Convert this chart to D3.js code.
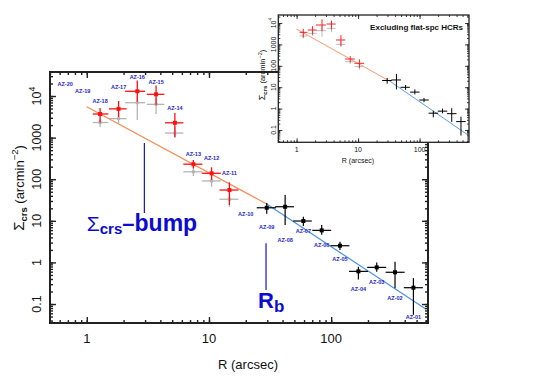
<!DOCTYPE html>
<html>
<head>
<meta charset="utf-8">
<script src="https://cdn.jsdelivr.net/npm/d3@7"></script>
<style>
body { margin: 0; background: #fff; }
text { font-family: "Liberation Sans", Arial, sans-serif; }
</style>
</head>
<body>
<div id="chart"></div>
<script>
// ---- data ----
var regionNames = ["AZ-01","AZ-02","AZ-03","AZ-04","AZ-05","AZ-06","AZ-07","AZ-08","AZ-09","AZ-10",
                   "AZ-11","AZ-12","AZ-13","AZ-14","AZ-15","AZ-16","AZ-17","AZ-18","AZ-19","AZ-20"];
var regionR = [471, 333, 236, 167, 118, 83.7, 59.2, 42, 29.7, 20.0,
               14.7, 10.5, 7.45, 5.26, 3.69, 2.59, 1.82, 1.285, 0.927, 0.665];
var labelS = [0.0495, 0.137, 0.344, 0.23, 1.21, 2.62, 5.8, 3.45, 7.2, 14.3,
              143, 318, 397, 5230, 22100, 28200, 16700, 7710, 13400, 19400];

// inner regions (red = all HCRs, gray = second estimate)
var redR    = [1.285, 1.82, 2.59, 3.69, 5.26, 7.45, 10.5, 14.7];
var redIn   = [1.12, 1.52, 2.06, 3.10, 4.37, 6.17, 8.73, 12.2];
var redOut  = [1.50, 2.12, 3.00, 4.31, 6.17, 8.83, 12.5, 17.4];
var redS    = [3700, 4920, 13000, 11000, 2270, 230, 139, 55];
var redLo   = [2300, 3130, 7300, 6080, 1030, 183, 96, 24];
var redHi   = [5150, 7590, 23600, 17900, 3900, 290, 193, 84];
var grayS   = [2310, 2860, 6900, 6310, 1290, 151, 91, 33];
var grayLo  = [1800, 2210, 2650, 3690, 980, 119, 66, 21.5];
var grayHi  = [2800, 3890, 10000, 8960, 1800, 196, 119, 55];

// outer regions
var blackR   = [29.7, 42, 59.2, 83.7, 118, 167, 236, 333, 471];
var blackIn  = [24.6, 34.8, 48.8, 70, 98.9, 140, 197, 279, 393];
var blackOut = [35.4, 49.7, 69.4, 100, 141, 200, 282, 399, 563];
var blackS   = [20.6, 21.8, 9.9, 5.9, 2.52, 0.61, 0.76, 0.58, 0.247];
var blackLo  = [14.7, 7.9, 7.5, 4.6, 1.99, 0.39, 0.6, 0.24, 0.055];
var blackHi  = [27, 41.7, 12.6, 7.9, 3.15, 0.79, 1.0, 1.04, 0.42];

// power-law fits [R, S]
var fitInner = [[1.0, 5530], [29.7, 25.3]];
var fitOuter = [[29.7, 25.3], [598, 0.0746]];

// inset: excluding flat-spectrum HCRs
var inRedS  = [3670, 4710, 8070, 8980, 1610, 208, 131];
var inRedLo = [2100, 2900, 4200, 5000, 850, 145, 80];
var inRedHi = [5400, 7200, 15000, 13000, 2700, 285, 200];
var inGrayS  = [2470, 3300, 4370, 5650, 1000, 155, 91];
var inGrayLo = [1900, 2500, 2300, 3700, 760, 120, 66];
var inGrayHi = [3100, 4300, 7500, 8000, 1300, 195, 118];
var inFitInner = [[1.0, 5200], [33, 19]];
var inFitOuter = [[33, 19], [636, 0.054]];

var yMajor = [0.1, 1, 10, 100, 1000, 10000];
var xMajor = [1, 10, 100];
var xTickLabels = ["1", "10", "100"];

// annotations [R, S]
var bumpLine = [[2.96, 741], [2.96, 15.4]];
var rbLine = [[29.3, 2.88], [29.3, 0.217]];

// ---- drawing ----
var svg = d3.select("#chart").append("svg").attr("width", 545).attr("height", 385);

var x = d3.scaleLog().domain([0.5, 620]).range([50, 428]);
var y = d3.scaleLog().domain([0.035, 37800]).range([323, 72]);

var blueTxt = "#0b0bd2";

function logAxes(g, sx, sy, major, minor, sw) {
  var x0 = sx.range()[0], x1 = sx.range()[1], y0 = sy.range()[0], y1 = sy.range()[1];
  var defs = [
    [d3.axisBottom(sx), "translate(0," + y0 + ")", sx],
    [d3.axisTop(sx), "translate(0," + y1 + ")", sx],
    [d3.axisLeft(sy), "translate(" + x0 + ",0)", sy],
    [d3.axisRight(sy), "translate(" + x1 + ",0)", sy]
  ];
  defs.forEach(function(d) {
    var s = d[2];
    var a1 = d[0].tickValues(s.ticks()).tickSize(-minor).tickFormat("");
    g.append("g").attr("transform", d[1]).call(a1).call(function(e){ e.select(".domain").remove(); })
      .selectAll("line").attr("stroke", "#222").attr("stroke-width", sw * 0.7);
    var a2 = d[0].tickValues(s === sx ? xMajor : yMajor).tickSize(-major).tickFormat("");
    g.append("g").attr("transform", d[1]).call(a2).call(function(e){ e.select(".domain").remove(); })
      .selectAll("line").attr("stroke", "#222").attr("stroke-width", sw * 0.7);
  });
  g.append("rect").attr("x", x0).attr("y", y1).attr("width", x1 - x0).attr("height", y0 - y1)
    .attr("fill", "none").attr("stroke", "#222").attr("stroke-width", sw);
}

function errBars(g, sx, sy, R, rin, rout, S, lo, hi, color, w, msize) {
  var pts = R.map(function(r, i) { return {r: r, a: rin[i], b: rout[i], s: S[i], lo: lo[i], hi: hi[i]}; });
  var gg = g.append("g");
  gg.selectAll(".h").data(pts).enter().append("line")
    .attr("x1", function(d){ return sx(d.a); }).attr("x2", function(d){ return sx(d.b); })
    .attr("y1", function(d){ return sy(d.s); }).attr("y2", function(d){ return sy(d.s); })
    .attr("stroke", color).attr("stroke-width", w);
  gg.selectAll(".v").data(pts).enter().append("line")
    .attr("x1", function(d){ return sx(d.r); }).attr("x2", function(d){ return sx(d.r); })
    .attr("y1", function(d){ return sy(d.lo); }).attr("y2", function(d){ return sy(d.hi); })
    .attr("stroke", color).attr("stroke-width", w);
  if (msize) {
    gg.selectAll(".m").data(pts).enter().append("rect")
      .attr("x", function(d){ return sx(d.r) - msize / 2; })
      .attr("y", function(d){ return sy(d.s) - msize / 2; })
      .attr("width", msize).attr("height", msize).attr("fill", color);
  }
}

function fitLine(g, sx, sy, pts, color, w) {
  g.append("path").datum(pts)
    .attr("d", d3.line().x(function(d){ return sx(d[0]); }).y(function(d){ return sy(d[1]); }))
    .attr("fill", "none").attr("stroke", color).attr("stroke-width", w);
}

function yLabel(g, tx, ty, v, fs) {
  var t = g.append("text").attr("transform", "translate(" + tx + "," + ty + ") rotate(-90)")
    .attr("text-anchor", "middle").attr("font-size", fs).attr("fill", "#111");
  if (v === 10000) {
    t.append("tspan").text("10");
    t.append("tspan").attr("font-size", fs * 0.7).attr("dy", -fs * 0.45).text("4");
  } else {
    t.text(v < 1 ? "0.1" : String(v));
  }
}

// main panel
var main = svg.append("g");
fitLine(main, x, y, fitInner, "#ff8a50", 1.2);
fitLine(main, x, y, fitOuter, "#4a93ea", 1.2);
errBars(main, x, y, redR, redIn, redOut, grayS, grayLo, grayHi, "#b4b4b4", 1.3, 3);
errBars(main, x, y, redR, redIn, redOut, redS, redLo, redHi, "#ff1010", 1.3, 4);
errBars(main, x, y, blackR, blackIn, blackOut, blackS, blackLo, blackHi, "#000", 1.2, 4);
logAxes(main, x, y, 6, 3, 2);

main.selectAll(".az").data(regionNames).enter().append("text")
  .attr("x", function(d, i){ return x(regionR[i]); })
  .attr("y", function(d, i){ return y(labelS[i]); })
  .attr("dy", "0.35em").attr("text-anchor", "middle")
  .attr("font-size", 5.5).attr("font-weight", "bold").attr("fill", "#2424d0")
  .text(function(d){ return d; });

// annotations
[bumpLine, rbLine].forEach(function(l) {
  main.append("line").attr("x1", x(l[0][0])).attr("x2", x(l[1][0]))
    .attr("y1", y(l[0][1])).attr("y2", y(l[1][1]))
    .attr("stroke", "#1414c8").attr("stroke-width", 1.2);
});
var bt = main.append("text").attr("x", x(1.0)).attr("y", y(5.69)).attr("fill", blueTxt).attr("font-weight", "bold");
bt.append("tspan").attr("font-size", 21).attr("font-weight", "normal").text("Σ");
bt.append("tspan").attr("font-size", 15).attr("dy", 3).text("crs");
bt.append("tspan").attr("font-size", 22).attr("dy", -3).text("–");
bt.append("tspan").attr("font-size", 23).text("bump");
var rt = main.append("text").attr("x", x(25.2)).attr("y", y(0.08)).attr("fill", blueTxt).attr("font-weight", "bold");
rt.append("tspan").attr("font-size", 22).text("R");
rt.append("tspan").attr("font-size", 17).attr("dy", 4).text("b");

// main tick labels
xMajor.forEach(function(v, i) {
  main.append("text").attr("x", x(v)).attr("y", 343).attr("text-anchor", "middle")
    .attr("font-size", 13).attr("fill", "#111").text(xTickLabels[i]);
});
yMajor.forEach(function(v) { yLabel(main, 41, y(v), v, 12.5); });
main.append("text").attr("x", 248).attr("y", 369).attr("text-anchor", "middle")
  .attr("font-size", 13).attr("fill", "#111").text("R (arcsec)");
var yt = main.append("text").attr("transform", "translate(24,188) rotate(-90)")
  .attr("text-anchor", "middle").attr("font-size", 13).attr("fill", "#111");
yt.append("tspan").attr("font-size", 15).text("Σ");
yt.append("tspan").attr("font-size", 9.5).attr("font-weight", "bold").attr("dy", 3).text("crs");
yt.append("tspan").attr("dy", -3).text(" (arcmin");
yt.append("tspan").attr("font-size", 9.5).attr("dy", -6).text("−2");
yt.append("tspan").attr("dy", 6).text(")");

// inset panel
var xi = d3.scaleLog().domain([0.504, 636]).range([278.3, 469]);
var yi = d3.scaleLog().domain([0.0266, 23700]).range([142.3, 15]);
var ins = svg.append("g");
ins.append("rect").attr("x", 278.3).attr("y", 15).attr("width", 190.7).attr("height", 127.3).attr("fill", "#fff");
fitLine(ins, xi, yi, inFitInner, "#ff9a6a", 1);
fitLine(ins, xi, yi, inFitOuter, "#5a9ff0", 1);
errBars(ins, xi, yi, redR.slice(0, 7), redIn, redOut, inGrayS, inGrayLo, inGrayHi, "#bbbbbb", 1, 0);
errBars(ins, xi, yi, redR.slice(0, 7), redIn, redOut, inRedS, inRedLo, inRedHi, "#ff2020", 1, 0);
errBars(ins, xi, yi, blackR, blackIn, blackOut, blackS, blackLo, blackHi, "#000", 1, 0);
logAxes(ins, xi, yi, 4, 2, 1.3);
ins.append("text").attr("x", 463).attr("y", 30).attr("text-anchor", "end")
  .attr("font-size", 8).attr("font-weight", "bold").attr("fill", "#111").text("Excluding flat-spc HCRs");
xMajor.forEach(function(v, i) {
  ins.append("text").attr("x", xi(v)).attr("y", 152).attr("text-anchor", "middle")
    .attr("font-size", 7).attr("fill", "#111").text(xTickLabels[i]);
});
yMajor.forEach(function(v) { yLabel(ins, 275.5, yi(v), v, 7); });
ins.append("text").attr("x", 358).attr("y", 163).attr("text-anchor", "middle")
  .attr("font-size", 7).attr("fill", "#111").text("R (arcsec)");
var iyt = ins.append("text").attr("transform", "translate(265,75) rotate(-90)")
  .attr("text-anchor", "middle").attr("font-size", 7.5).attr("fill", "#111");
iyt.append("tspan").attr("font-size", 9).text("Σ");
iyt.append("tspan").attr("font-size", 6).attr("font-weight", "bold").attr("dy", 2).text("crs");
iyt.append("tspan").attr("dy", -2).text(" (arcmin");
iyt.append("tspan").attr("font-size", 5.5).attr("dy", -3).text("−2");
iyt.append("tspan").attr("dy", 3).text(")");
</script>
</body>
</html>
